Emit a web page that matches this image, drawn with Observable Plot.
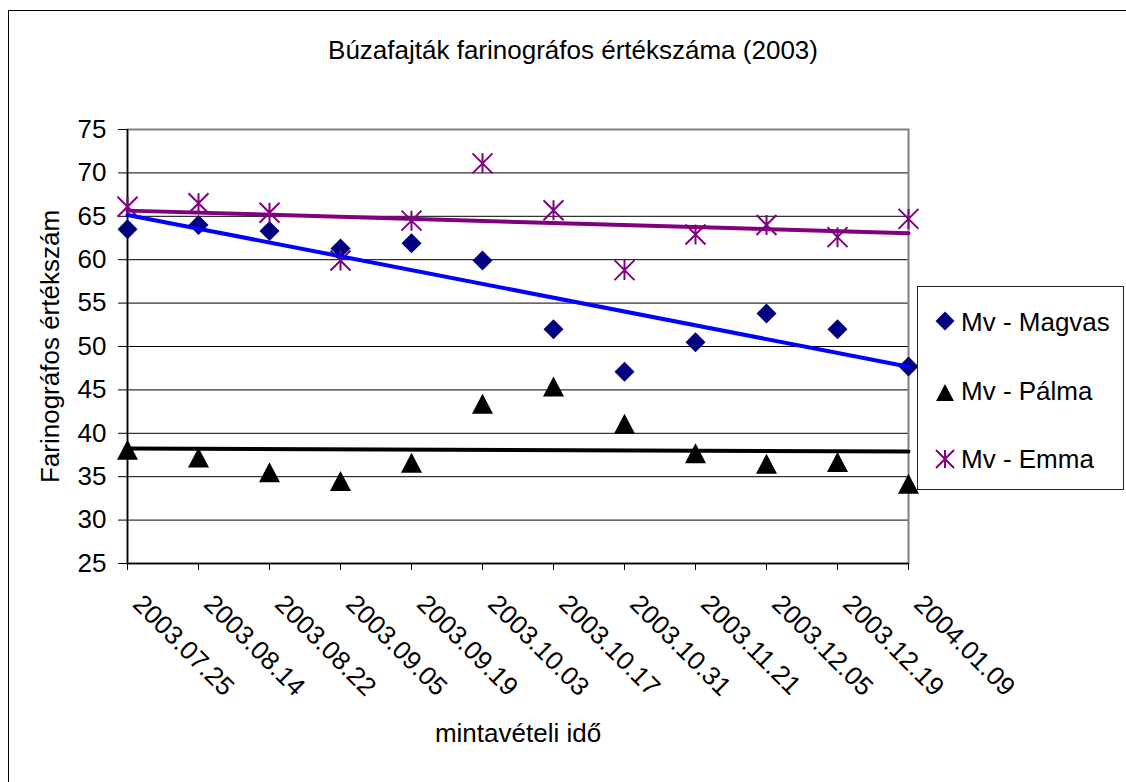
<!DOCTYPE html>
<html>
<head>
<meta charset="utf-8">
<script src="https://cdn.jsdelivr.net/npm/d3@7"></script>
<script src="https://cdn.jsdelivr.net/npm/@observablehq/plot@0.6"></script>
<style>
  html, body { margin: 0; padding: 0; background: #fff; overflow: hidden; }
  #wrap { position: relative; width: 1126px; height: 782px; overflow: hidden; background: #fff;
          font-family: "Liberation Sans", Arial, sans-serif; }
  #border { position: absolute; left: 8px; top: 10px; width: 1200px; height: 900px;
            border-left: 1.5px solid #000; border-top: 1.5px solid #000; box-sizing: border-box; }
  #chart { position: absolute; left: 0; top: 0; }
  #legend { position: absolute; left: 917px; top: 286px; width: 207px; height: 204px;
            border: 1px solid #222; box-sizing: border-box; background: #fff; }
  #legend svg { position: absolute; left: -1px; top: -1px; overflow: visible; }
</style>
</head>
<body>
<div id="wrap">
  <div id="border"></div>
  <div id="chart"></div>
  <div id="legend"></div>
</div>
<script>
const title = "Búzafajták farinográfos értékszáma (2003)";
const yTitle = "Farinográfos értékszám";
const xTitle = "mintavételi idő";
const dates = ["2003.07.25", "2003.08.14", "2003.08.22", "2003.09.05", "2003.09.19", "2003.10.03",
               "2003.10.17", "2003.10.31", "2003.11.21", "2003.12.05", "2003.12.19", "2004.01.09"];
const seriesNames = ["Mv - Magvas", "Mv - Pálma", "Mv - Emma"];
const magvas = [63.5, 64.0, 63.3, 61.3, 61.9, 59.9, 52.0, 47.1, 50.5, 53.8, 52.0, 47.7];
const palma  = [38.1, 37.2, 35.5, 34.5, 36.6, 43.4, 45.4, 41.1, 37.7, 36.5, 36.7, 34.2];
const emma   = [66.1, 66.5, 65.4, 59.9, 64.5, 71.1, 65.7, 58.8, 62.9, 64.0, 62.6, 64.7];
const yTicks = [25, 30, 35, 40, 45, 50, 55, 60, 65, 70, 75];

const FONT = "'Liberation Sans', Arial, sans-serif";
const idx = dates.map((d, i) => i);
const rows = vals => vals.map((v, i) => ({i, v}));

// Excel-like marker shapes
const rad = size => Math.sqrt(size / Math.PI);
const diamondSym = {draw(ctx, size) { const r = rad(size);
  ctx.moveTo(0, -r); ctx.lineTo(r, 0); ctx.lineTo(0, r); ctx.lineTo(-r, 0); ctx.closePath(); }};
const triangleSym = {draw(ctx, size) { const r = rad(size);
  ctx.moveTo(0, -r); ctx.lineTo(r * 1.05, r); ctx.lineTo(-r * 1.05, r); ctx.closePath(); }};
const starSym = {draw(ctx, size) { const r = rad(size);
  ctx.moveTo(-r, -r); ctx.lineTo(r, r); ctx.moveTo(-r, r); ctx.lineTo(r, -r);
  ctx.moveTo(0, -r); ctx.lineTo(0, r); }};

const colors = {magvas: "#000080", magvasTrend: "#0000FF", palma: "#000000", emma: "#800080"};

const chart = Plot.plot({
  width: 1126,
  height: 782,
  marginLeft: 127,
  marginRight: 218,
  marginTop: 129,
  marginBottom: 219,
  style: {fontFamily: FONT, fontSize: "26px", background: "transparent", overflow: "visible", color: "#000"},
  x: {type: "linear", domain: [0, 11]},
  y: {domain: [25, 75]},
  marks: [
    Plot.gridY(yTicks.filter(t => t > 25 && t < 75), {stroke: "#000", strokeOpacity: 1, strokeWidth: 1}),
    Plot.frame({stroke: "#808080", strokeWidth: 2}),
    Plot.ruleX([0], {stroke: "#000", strokeWidth: 1.5}),
    Plot.ruleY([25], {stroke: "#000", strokeWidth: 1.5}),
    Plot.axisY({ticks: yTicks, tickSize: 9, tickPadding: 12, fontSize: 26, label: null, stroke: "#000", fill: "#000"}),
    Plot.axisX({ticks: idx, tickSize: 7, tickFormat: () => "", label: null, stroke: "#000"}),
    Plot.dot(rows(magvas), {x: "i", y: "v", symbol: diamondSym, r: 10, fill: colors.magvas, stroke: "none"}),
    Plot.dot(rows(palma), {x: "i", y: "v", symbol: triangleSym, r: 10, fill: colors.palma, stroke: "none"}),
    Plot.dot(rows(emma), {x: "i", y: "v", symbol: starSym, r: 10, fill: "none", stroke: colors.emma, strokeWidth: 2}),
    Plot.linearRegressionY(rows(magvas), {x: "i", y: "v", stroke: colors.magvasTrend, strokeWidth: 4, ci: 0}),
    Plot.linearRegressionY(rows(palma), {x: "i", y: "v", stroke: colors.palma, strokeWidth: 4, ci: 0}),
    Plot.linearRegressionY(rows(emma), {x: "i", y: "v", stroke: colors.emma, strokeWidth: 4, ci: 0}),
    Plot.text(dates, {x: (d, i) => i, text: d => d, frameAnchor: "bottom", dx: 4, dy: 42, rotate: 45,
                      textAnchor: "start", lineAnchor: "bottom", fontSize: 26, fill: "#000"}),
    Plot.text([yTitle], {frameAnchor: "left", dx: -69, rotate: -90, textAnchor: "middle",
                         lineAnchor: "bottom", fontSize: 26, fill: "#000"}),
    Plot.text([xTitle], {frameAnchor: "bottom", dy: 178, lineAnchor: "bottom", fontSize: 26, fill: "#000"}),
    Plot.text([title], {frameAnchor: "top", dx: 55, dy: -71, lineAnchor: "bottom", fontSize: 26, fill: "#000"})
  ]
});
document.getElementById("chart").appendChild(chart);

// Legend
const ns = "http://www.w3.org/2000/svg";
const lsvg = document.createElementNS(ns, "svg");
lsvg.setAttribute("width", 207); lsvg.setAttribute("height", 204);
const legendItems = [
  {name: seriesNames[0], sym: diamondSym, r: 9.5, fill: colors.magvas, stroke: "none", sw: 0, cy: 35, by: 45},
  {name: seriesNames[1], sym: triangleSym, r: 8.5, fill: colors.palma, stroke: "none", sw: 0, cy: 106.5, by: 114},
  {name: seriesNames[2], sym: starSym, r: 9, fill: "none", stroke: colors.emma, sw: 2, cy: 173, by: 182}
];
for (const it of legendItems) {
  const p = document.createElementNS(ns, "path");
  p.setAttribute("d", d3.symbol(it.sym, it.r * it.r * Math.PI)());
  p.setAttribute("transform", `translate(28,${it.cy})`);
  p.setAttribute("fill", it.fill);
  p.setAttribute("stroke", it.stroke);
  p.setAttribute("stroke-width", it.sw);
  lsvg.appendChild(p);
  const t = document.createElementNS(ns, "text");
  t.setAttribute("x", 44); t.setAttribute("y", it.by);
  t.setAttribute("font-family", FONT); t.setAttribute("font-size", 26);
  t.textContent = it.name;
  lsvg.appendChild(t);
}
document.getElementById("legend").appendChild(lsvg);
</script>
</body>
</html>
